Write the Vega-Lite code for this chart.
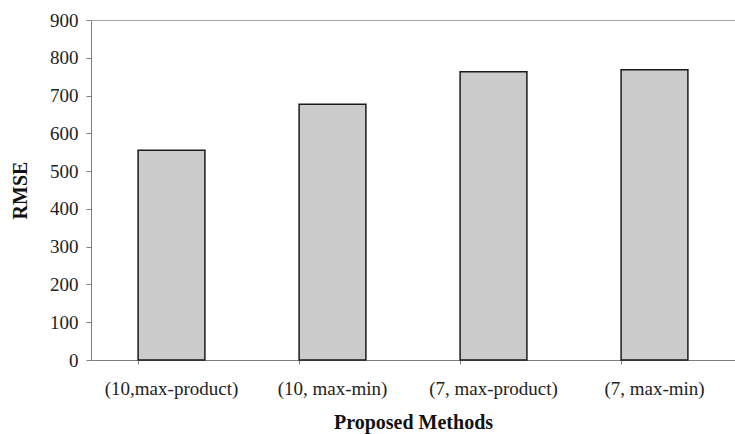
{
  "$schema": "https://vega.github.io/schema/vega-lite/v6.json",
  "autosize": "none",
  "width": 644,
  "height": 340,
  "padding": {"left": 91, "top": 20, "right": 0, "bottom": 74},
  "background": "white",
  "view": {"stroke": null},
  "config": {
    "font": "Liberation Serif",
    "axis": {"labelFont": "Liberation Serif", "titleFont": "Liberation Serif", "labelColor": "#222", "titleColor": "#111", "domainColor": "#808080", "tickColor": "#808080"}
  },
  "data": {
    "values": [
      {"method": "(10,max-product)", "rmse": 555},
      {"method": "(10,  max-min)", "rmse": 677},
      {"method": "(7, max-product)", "rmse": 763},
      {"method": "(7, max-min)", "rmse": 768}
    ]
  },
  "mark": {"type": "bar", "fill": "#cbcbcb", "stroke": "#1a1a1a", "strokeWidth": 1.5},
  "encoding": {
    "x": {
      "field": "method", "type": "nominal", "sort": null,
      "scale": {"paddingInner": 0.585, "paddingOuter": 0.2925},
      "axis": {"title": "Proposed Methods", "titleFontSize": 20, "titleFontWeight": "bold", "titlePadding": 14, "labelAngle": 0, "labelFontSize": 19, "labelPadding": 15, "bandPosition": 0, "tickSize": 4, "ticks": true}
    },
    "y": {
      "field": "rmse", "type": "quantitative",
      "scale": {"domain": [0, 900]},
      "axis": {"title": "RMSE", "titleFontSize": 20, "titleFontWeight": "bold", "titlePadding": 19, "values": [0,100,200,300,400,500,600,700,800,900], "labelFontSize": 19, "labelPadding": 8, "tickSize": 5, "grid": true, "gridColor": "#a0a0a0", "gridOpacity": {"condition": {"test": "datum.value == 900", "value": 1}, "value": 0}}
    }
  }
}
